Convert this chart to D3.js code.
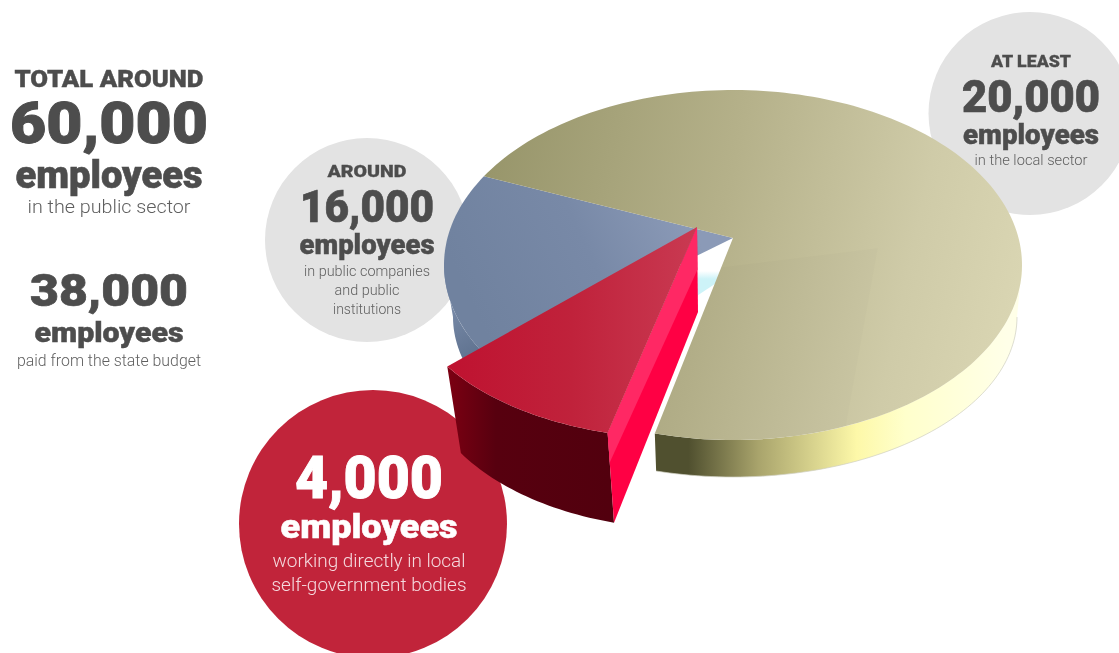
<!DOCTYPE html>
<html>
<head>
  <meta charset="utf-8">
  <script src="https://d3js.org/d3.v7.min.js"></script>
  <style>
    html, body { margin: 0; padding: 0; background: #fff; overflow: hidden; }
    svg { display: block; will-change: transform; }
    text { text-anchor: middle; }
    .head { font-family: Roboto, sans-serif; font-weight: 900; fill: #4d4d4d; stroke: #4d4d4d; }
    .sub { font-family: Roboto, sans-serif; font-weight: 300; fill: #5f5f5f; }
  </style>
</head>
<body>
<script type="text/javascript">
  // sector shares as drawn in the picture (percent of the rim)
  var sectors = ["self-government", "public companies", "local sector"];
  var shares = [11.7, 17.4, 70.9];

  var totalLines = ["TOTAL AROUND", "60,000", "employees", "in the public sector"];
  var budgetLines = ["38,000", "employees", "paid from the state budget"];
  var companyLines = ["AROUND", "16,000", "employees", "in public companies", "and public", "institutions"];
  var localLines = ["AT LEAST", "20,000", "employees", "in the local sector"];
  var selfGovLines = ["4,000", "employees", "working directly in local", "self-government bodies"];

  var width = 1119, height = 653;
  var svg = d3.select("body").append("svg")
    .attr("width", width)
    .attr("height", height);
  var defs = svg.append("defs");

  function gradient(id, x1, y1, x2, y2, stops) {
    var g = defs.append("linearGradient")
      .attr("id", id)
      .attr("gradientUnits", "userSpaceOnUse")
      .attr("x1", x1).attr("y1", y1).attr("x2", x2).attr("y2", y2);
    stops.forEach(function(s) {
      g.append("stop").attr("offset", s[0]).attr("stop-color", s[1]);
    });
  }
  gradient("oliveTop", 484, 150, 1022, 265, [[0, "#97956a"], [0.45, "#b5b18a"], [0.8, "#cfcba8"], [1, "#d9d5b2"]]);
  gradient("oliveWall", 657, 0, 1007, 0, [[0, "#50502f"], [0.09, "#50502f"], [0.29, "#a9a46c"], [0.57, "#fdf8a8"], [0.71, "#ffffcc"], [1, "#ffffe8"]]);
  gradient("blueTop", 470, 300, 680, 200, [[0, "#70829f"], [0.55, "#7889a7"], [1, "#8b9ab7"]]);
  gradient("blueWall", 445, 300, 480, 360, [[0, "#7b8dab"], [1, "#5d708d"]]);
  gradient("cutFace", 0, 271, 0, 279, [[0, "#ffffff"], [1, "#cdf3f8"]]);
  gradient("redTop", 447, 0, 697, 0, [[0, "#bf1230"], [0.5, "#c0223b"], [1, "#c93a52"]]);
  gradient("redWall", 447, 0, 610, 0, [[0, "#7c0012"], [0.3, "#57000f"], [1, "#52000e"]]);

  // rims of the tilted disc: each is an ellipse, angle 0 at the top, clockwise
  var apex = [733, 238];
  var topRim = {cx: 733, cy: 265, rx: 289, ry: 175};
  var lowRim = {cx: 733, cy: 317, rx: 284, ry: 160};
  var blueLowRim = {cx: 733, cy: 317, rx: 280, ry: 160};
  var apexLow = [733, 272];
  // the pulled out slice has its own rims
  var redApex = [697, 227];
  var redApexLow = [698, 312];
  var redTopRim = {cx: 683, cy: 284, rx: 278.5, ry: 154.7};
  var redLowRim = {cx: 686, cy: 367, rx: 266, ry: 161.7};

  var startAngle = 195.7 * Math.PI / 180;
  var pie = d3.pie().sort(null).startAngle(startAngle).endAngle(startAngle + 2 * Math.PI);
  var slices = pie(shares);
  var line = d3.line();

  function rimPoint(e, a) {
    return [e.cx + e.rx * Math.sin(a), e.cy - e.ry * Math.cos(a)];
  }
  function rimPoints(e, a0, a1) {
    var n = Math.max(2, Math.ceil(Math.abs(a1 - a0) * 40));
    var s = d3.scaleLinear().domain([0, n]).range([a0, a1]);
    return d3.range(n + 1).map(function(i) { return rimPoint(e, s(i)); });
  }
  function polygon(parent, pts, fill) {
    return parent.append("path").attr("d", line(pts) + "Z").attr("fill", fill);
  }
  function lerp(a, b, t) {
    return [a[0] + (b[0] - a[0]) * t, a[1] + (b[1] - a[1]) * t];
  }

  // circles behind the pie
  svg.append("circle").attr("cx", 1030).attr("cy", 113.5).attr("r", 101.5).attr("fill", "#e3e3e3");
  svg.append("circle").attr("cx", 367).attr("cy", 240).attr("r", 102).attr("fill", "#e3e3e3");

  var red = slices[0], blue = slices[1], olive = slices[2];
  var pieG = svg.append("g");

  // blue slice: outer wall, cut face, top
  polygon(pieG, rimPoints(topRim, blue.startAngle, 1.5 * Math.PI)
    .concat(rimPoints(blueLowRim, 1.5 * Math.PI, blue.startAngle)), "url(#blueWall)");
  polygon(pieG, [apex, rimPoint(topRim, blue.startAngle), [apexLow[0] - 245, apexLow[1] + 162], apexLow], "url(#cutFace)");
  polygon(pieG, [apex].concat(rimPoints(topRim, blue.startAngle, blue.endAngle)), "url(#blueTop)");

  // olive slice: outer wall from the cut round to the right, then top
  polygon(pieG, rimPoints(topRim, olive.endAngle - 2 * Math.PI, 0.5 * Math.PI)
    .concat(rimPoints(lowRim, 0.5 * Math.PI, olive.endAngle - 2 * Math.PI)), "url(#oliveWall)");
  polygon(pieG, [apex].concat(rimPoints(topRim, olive.startAngle, olive.endAngle)), "url(#oliveTop)");
  // faint shaded facet on the olive top
  var facetStart = 157 * Math.PI / 180, oliveCut = olive.endAngle - 2 * Math.PI;
  polygon(pieG, [lerp(apex, rimPoint(topRim, oliveCut), 0.15), [878, 248]]
    .concat(rimPoints(topRim, facetStart, oliveCut)), "#000").attr("opacity", 0.012);
  // thin outline where the disc meets the white page
  pieG.append("path").attr("d", line(rimPoints(lowRim, 0.5 * Math.PI, oliveCut)))
    .attr("fill", "none").attr("stroke", "#cfcfc0").attr("stroke-width", 0.7);

  // red circle goes under the pulled out slice
  svg.append("circle").attr("cx", 373).attr("cy", 524).attr("r", 134).attr("fill", "#c1243a");

  var redG = svg.append("g");
  var cornerR = rimPoint(redTopRim, red.startAngle), cornerRLow = rimPoint(redLowRim, red.startAngle);
  polygon(redG, rimPoints(redTopRim, red.startAngle, red.endAngle)
    .concat(rimPoints(redLowRim, red.endAngle, red.startAngle)), "url(#redWall)");
  polygon(redG, [redApex, redApexLow, cornerRLow, cornerR], "#ff0044");
  polygon(redG, [redApex, lerp(redApex, redApexLow, 0.5), lerp(cornerR, cornerRLow, 0.33), cornerR], "#ff2864");
  polygon(redG, [redApex].concat(rimPoints(redTopRim, red.startAngle, red.endAngle)), "url(#redTop)");

  // text blocks, one entry per line: baseline, size, drawn width, class, colour
  function block(lines, x, layout) {
    lines.forEach(function(t, i) {
      var l = layout[i];
      var el = svg.append("text")
        .attr("class", l[3])
        .attr("x", x)
        .attr("y", l[0])
        .attr("font-size", l[1])
        .attr("textLength", l[2])
        .attr("lengthAdjust", "spacingAndGlyphs")
        .text(t);
      if (l[4]) el.style("fill", l[4]);
      // Roboto Black is lighter than the original face, thicken it a bit
      if (l[3] == "head") {
        el.attr("stroke-width", l[1] * 0.016);
        if (l[4]) el.style("stroke", l[4]);
      }
    });
  }
  block(totalLines, 109, [[87, 24, 189, "head"], [143, 57, 198, "head"], [188, 38, 187, "head"], [213, 19, 163, "sub"]]);
  block(budgetLines, 109, [[306, 45, 158, "head"], [342, 28, 149, "head"], [366, 16, 184, "sub"]]);
  block(companyLines, 367, [[177, 16.5, 79, "head"], [222, 45, 134, "head"], [254, 28, 135, "head"], [276, 15, 126, "sub"], [295, 15, 65, "sub"], [314, 15, 68, "sub"]]);
  block(localLines, 1031, [[67, 16.5, 80, "head"], [112, 44, 138, "head"], [144, 28, 136, "head"], [165, 15, 113, "sub"]]);
  block(selfGovLines, 369, [[498, 60, 148, "head", "#fff"], [538, 33, 177, "head", "#fff"], [567, 19, 193, "sub", "#f5d9de"], [591, 19, 195, "sub", "#f5d9de"]]);
</script>
</body>
</html>
